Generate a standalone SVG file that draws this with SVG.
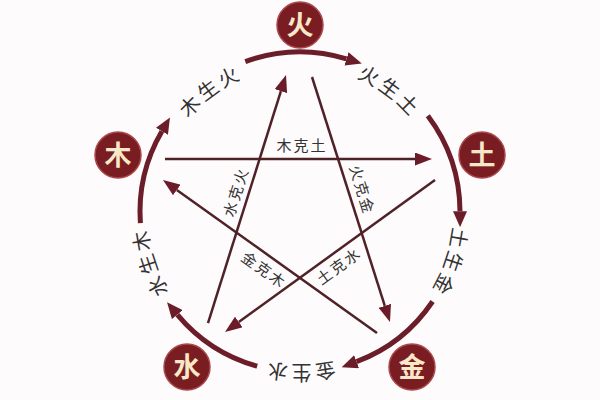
<svg xmlns="http://www.w3.org/2000/svg" width="600" height="400" viewBox="0 0 600 400">
  <defs>
    <style>
      .node circle { fill: #7a1d22; stroke: #a8484c; stroke-width: 1.5; }
      .node text { font-family: "Noto Sans CJK SC", "Noto Sans", sans-serif; font-size: 27px; font-weight: 700; fill: #f7e8c8; text-anchor: middle; }
      .arc { fill: none; stroke: #6b1e29; stroke-width: 5; }
      .ke { fill: none; stroke: #4f2228; stroke-width: 2.5; }
      .ring { font-family: "Noto Sans CJK SC", "Noto Sans", sans-serif; font-size: 20px; fill: #333; letter-spacing: 3px; }
      .lbl { font-family: "Noto Sans CJK SC", "Noto Sans", sans-serif; font-size: 15px; fill: #333; text-anchor: middle; letter-spacing: 2px; }
    </style>
    <marker id="ah-big" markerUnits="userSpaceOnUse" markerWidth="16" markerHeight="14" viewBox="0 0 16 14" refX="0" refY="7" orient="auto">
      <path d="M0,0 L16,7 L0,14 Z" fill="#6b1e29"/>
    </marker>
    <marker id="ah-small" markerUnits="userSpaceOnUse" markerWidth="17" markerHeight="13" viewBox="0 0 17 13" refX="0" refY="6.5" orient="auto">
      <path d="M0,0 L17,6.5 L0,13 Z" fill="#6b1c28"/>
    </marker>
    <path id="ringHi" d="M445.4,212 A145.4,145.4 0 1 1 154.6,212 A145.4,145.4 0 1 1 445.4,212"/>
    <path id="ringLo" d="M453.4,212 A153.4,153.4 0 1 1 146.6,212 A153.4,153.4 0 1 1 453.4,212"/>
  </defs>
  <rect width="600" height="400" fill="#fdfbfb"/>

  <g id="connectors">
    <!-- generating cycle (outer arcs) -->
    <path class="arc" d="M140.4,223.2 A160,160 0 0 1 161.9,131.3" marker-end="url(#ah-big)"/>
    <path class="arc" d="M245.3,61.6 A160,160 0 0 1 346.5,58.9" marker-end="url(#ah-big)"/>
    <path class="arc" d="M427.8,115.7 A160,160 0 0 1 460,211.2" marker-end="url(#ah-big)"/>
    <path class="arc" d="M432.6,301.5 A160,160 0 0 1 356.6,361.7" marker-end="url(#ah-big)"/>
    <path class="arc" d="M257.2,366.2 A160,160 0 0 1 177.3,314.6" marker-end="url(#ah-big)"/>
    <!-- controlling cycle (star) -->
    <path class="ke" d="M165,159 L415,159" marker-end="url(#ah-small)"/>
    <path class="ke" d="M435,180 L238.8,322" marker-end="url(#ah-small)"/>
    <path class="ke" d="M208,323 L280.9,91.2" marker-end="url(#ah-small)"/>
    <path class="ke" d="M312,77 L384.8,305.8" marker-end="url(#ah-small)"/>
    <path class="ke" d="M377,333 L176.8,189.9" marker-end="url(#ah-small)"/>
    <!-- ring labels -->
    <text class="ring" text-anchor="middle"><textPath href="#ringHi" startOffset="64.86%">木生火</textPath></text>
    <text class="ring" text-anchor="middle"><textPath href="#ringHi" startOffset="85.14%">火生土</textPath></text>
    <text class="ring" text-anchor="middle"><textPath href="#ringLo" startOffset="5.14%">土生金</textPath></text>
    <text class="ring" text-anchor="middle"><textPath href="#ringLo" startOffset="25%">金生水</textPath></text>
    <text class="ring" text-anchor="middle"><textPath href="#ringLo" startOffset="44.86%">水生木</textPath></text>
    <!-- star labels -->
    <text class="lbl" x="302" y="150.5">木克土</text>
    <text class="lbl" transform="translate(236,192) rotate(-72.3)" x="0" y="5.5">水克火</text>
    <text class="lbl" transform="translate(362,190) rotate(72.6)" x="0" y="5.5">火克金</text>
    <text class="lbl" transform="translate(264,270) rotate(35.6)" x="0" y="5.5">金克木</text>
    <text class="lbl" transform="translate(339,266) rotate(-35.9)" x="0" y="5.5">土克水</text>
  </g>

  <g id="node-huo" class="node"><circle cx="300" cy="25" r="23"/><text x="300" y="35">火</text></g>
  <g id="node-tu" class="node"><circle cx="482" cy="155" r="23"/><text x="482" y="165">土</text></g>
  <g id="node-jin" class="node"><circle cx="412" cy="367" r="23"/><text x="412" y="377">金</text></g>
  <g id="node-shui" class="node"><circle cx="187" cy="367" r="23"/><text x="187" y="377">水</text></g>
  <g id="node-mu" class="node"><circle cx="118" cy="155" r="23"/><text x="118" y="165">木</text></g>
</svg>
